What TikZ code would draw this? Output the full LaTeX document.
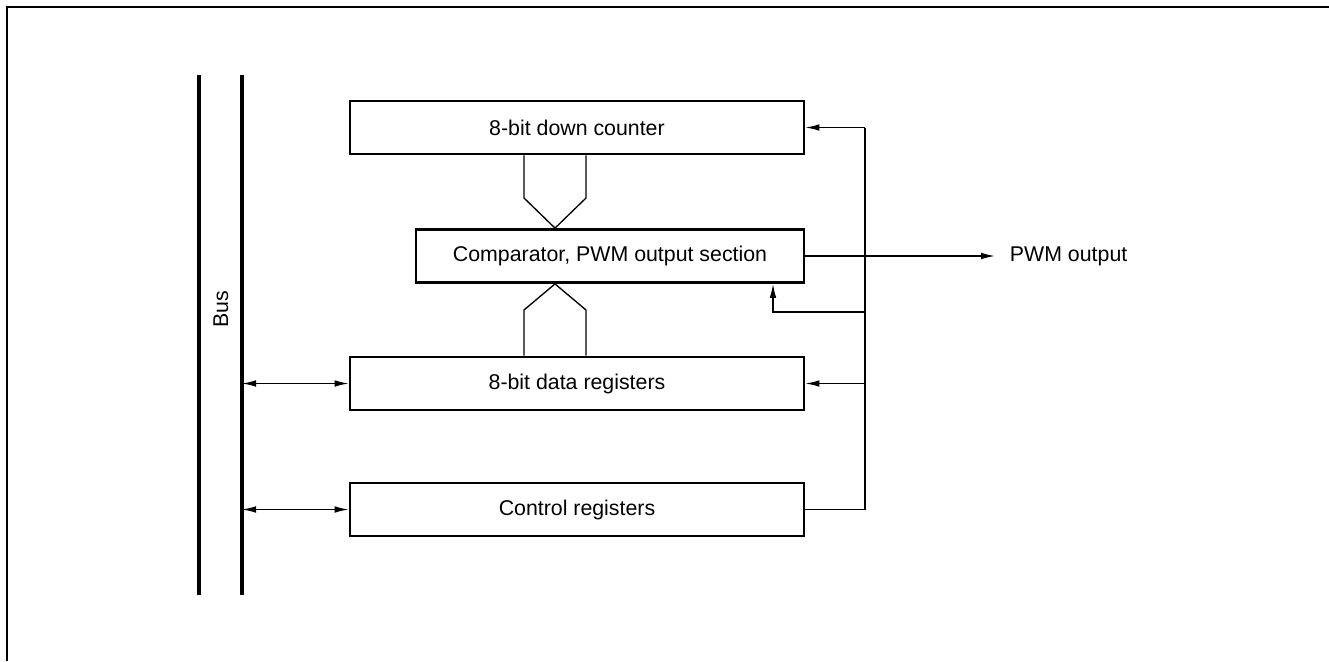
\documentclass[tikz,border=0pt]{standalone}
\usepackage{fontspec}
\setmainfont{Liberation Sans}
\usetikzlibrary{
  arrows.meta,
  calc,
  positioning,
}
\tikzset{
  >={Latex[length=10.5pt,width=5pt]},
  block/.style={rectangle,draw,line width=2.1pt,minimum height=39.75pt,inner sep=0pt},
  wire/.style={line width=1pt},
  busline/.style={line width=2.5pt},
}

\begin{document}
\begin{tikzpicture}[x=0.75pt,y=-0.75pt,font=\fontsize{16}{19}\selectfont]

        \useasboundingbox (0,0) rectangle (1329,661);
        \draw[line width=1.6pt] (7,661) -- (7,7) -- (1329,7);

        % bus
        \coordinate (busAtop) at (199,75);
        \coordinate (busAbot) at (199,595);
        \coordinate (busBtop) at (242,75);
        \coordinate (busBbot) at (242,595);
        \draw[busline] (busAtop) -- (busAbot);
        \draw[busline] (busBtop) -- (busBbot);
        \node[rotate=90] (buslabel) at (221,309) {Bus};

        % blocks
        \node[block,minimum width=340.5pt] (counter) at (577,127.5) {8-bit down counter};
        \node[block,minimum width=291pt] (cmp) at (610,256) {Comparator, PWM output section};
        \node[block,minimum width=340.5pt] (data) at (577,383.5) {8-bit data registers};
        \node[block,minimum width=340.5pt] (ctrl) at (577,509.5) {Control registers};
        \node[anchor=west,inner xsep=11pt,inner ysep=0pt] (pwm) at (995,256) {PWM output};

        % chevrons
        \draw[wire] (524,0 |- counter.south) -- (524,198) -- (555,0 |- cmp.north) -- (586,198) -- (586,0 |- counter.south);
        \draw[wire] (524,0 |- data.north) -- (524,310) -- (555,0 |- cmp.south) -- (586,310) -- (586,0 |- data.north);

        % control lines
        \coordinate (fbtop) at (865,0 |- counter.east);
        \coordinate (fbbot) at (865,0 |- ctrl.east);
        \draw[wire] (ctrl.east) -- (fbbot) -- (fbtop);
        \draw[wire,->] (fbtop) -- (counter.east);
        \draw[wire,->] (fbtop |- data.east) -- (data.east);
        \draw[wire,->] (865,312) -| (773,0 |- cmp.south);
        \draw[wire,->] (cmp.east) -- (pwm.west);

        \draw[wire,<->] (busBtop |- data.west) -- (data.west);
        \draw[wire,<->] (busBtop |- ctrl.west) -- (ctrl.west);

      \end{tikzpicture}
\end{document}
